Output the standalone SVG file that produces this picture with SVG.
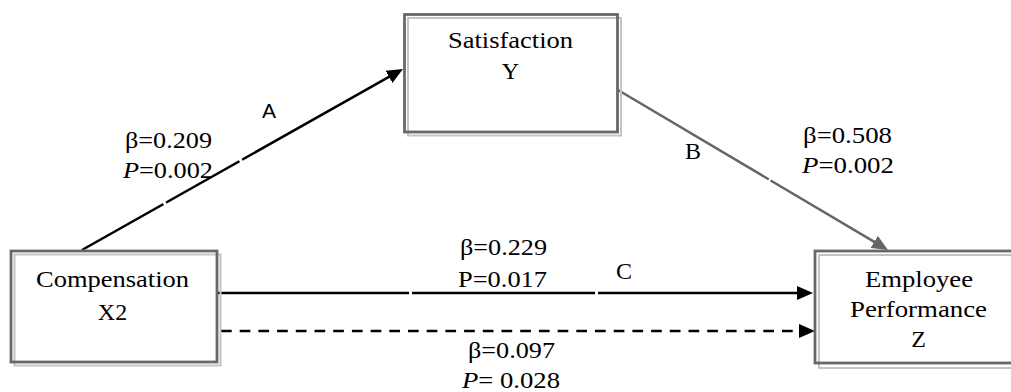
<svg xmlns="http://www.w3.org/2000/svg" width="1011" height="392" viewBox="0 0 1011 392">
<style>
.shadow{fill:none;stroke:#c4c4c4;stroke-width:2}
.box{fill:none;stroke:#686868;stroke-width:2.8}
.t{font-family:'Liberation Serif','DejaVu Serif','Noto Serif','Times New Roman',Times,serif;font-size:24px;fill:#000}
.sans{font-family:'Liberation Sans','DejaVu Sans',Arial,sans-serif;font-size:21px;fill:#000}
.conn{fill:none;stroke-width:2.5}
.gap{fill:#fff;stroke:none}
</style>
<defs>
<marker id="ah" markerUnits="userSpaceOnUse" markerWidth="16" markerHeight="14" refX="4" refY="7" orient="auto">
<path d="M0,0 L16,7 L0,14 z" fill="#000"/>
</marker>
<marker id="ahg" markerUnits="userSpaceOnUse" markerWidth="16" markerHeight="14" refX="4" refY="7" orient="auto">
<path d="M0,0 L16,7 L0,14 z" fill="#666"/>
</marker>
</defs>
<rect width="1011" height="392" fill="#fff"/>

<g id="connectors">
<line class="conn" x1="82" y1="250" x2="392.5" y2="74.9" stroke="#000" marker-end="url(#ah)"/>
<line class="conn" x1="618" y1="90" x2="877.7" y2="243.9" stroke="#666" marker-end="url(#ahg)"/>
<line class="conn" x1="217" y1="293" x2="801" y2="293" stroke="#000" marker-end="url(#ah)"/>
<line class="conn" x1="221" y1="331" x2="803" y2="331" stroke="#000" stroke-dasharray="10.7 8" marker-end="url(#ah)"/>
<rect class="gap" x="163" y="198" width="3" height="10" transform="rotate(-29.4 164.5 203)"/>
<rect class="gap" x="239" y="155" width="3" height="10" transform="rotate(-29.4 240.5 160)"/>
<rect class="gap" x="409" y="288" width="3" height="10"/>
<rect class="gap" x="595" y="288" width="3" height="10"/>
<rect class="gap" x="768" y="176" width="2" height="10" transform="rotate(30.6 769 181)"/>
</g>

<g id="node-satisfaction">
<rect class="shadow" x="408" y="18" width="213" height="117.5"/>
<rect class="box" x="404.5" y="14.5" width="213" height="117.5"/>
<text class="t" x="510.5" y="48" text-anchor="middle" textLength="125" lengthAdjust="spacingAndGlyphs">Satisfaction</text>
<text class="t" x="510.5" y="79" text-anchor="middle">Y</text>
</g>

<g id="node-compensation">
<rect class="shadow" x="14.5" y="254.5" width="206" height="111"/>
<rect class="box" x="11" y="251" width="206" height="111"/>
<text class="t" x="112.5" y="287" text-anchor="middle" textLength="153" lengthAdjust="spacingAndGlyphs">Compensation</text>
<text class="t" x="112.5" y="320" text-anchor="middle">X2</text>
</g>

<g id="node-employee">
<rect class="shadow" x="819" y="255" width="220" height="113"/>
<rect class="box" x="815" y="251" width="220" height="112"/>
<text class="t" x="919" y="287" text-anchor="middle" textLength="108" lengthAdjust="spacingAndGlyphs">Employee</text>
<text class="t" x="918.5" y="317" text-anchor="middle" textLength="137" lengthAdjust="spacingAndGlyphs">Performance</text>
<text class="t" x="918.5" y="347" text-anchor="middle">Z</text>
</g>

<g id="labels">
<text class="sans" x="262" y="118">A</text>
<text class="t" x="685" y="159">B</text>
<text class="t" x="616" y="279">C</text>
<text class="t" x="125" y="148" textLength="87" lengthAdjust="spacingAndGlyphs">β=0.209</text>
<text class="t" x="123" y="178" textLength="90" lengthAdjust="spacingAndGlyphs"><tspan font-style="italic">P</tspan>=0.002</text>
<text class="t" x="803" y="143" textLength="89" lengthAdjust="spacingAndGlyphs">β=0.508</text>
<text class="t" x="802" y="173" textLength="92" lengthAdjust="spacingAndGlyphs"><tspan font-style="italic">P</tspan>=0.002</text>
<text class="t" x="460" y="255" textLength="87" lengthAdjust="spacingAndGlyphs">β=0.229</text>
<text class="t" x="458" y="287" textLength="89" lengthAdjust="spacingAndGlyphs">P=0.017</text>
<text class="t" x="468" y="358" textLength="87" lengthAdjust="spacingAndGlyphs">β=0.097</text>
<text class="t" x="462" y="388" textLength="98" lengthAdjust="spacingAndGlyphs"><tspan font-style="italic">P</tspan>= 0.028</text>
</g>
</svg>
